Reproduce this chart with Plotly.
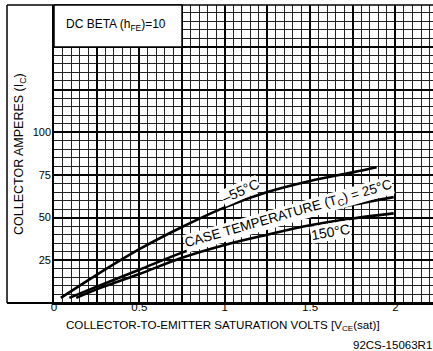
import plotly.graph_objects as go

# ---- data ----
volts_m55 = [0.04, 0.25, 0.5, 0.75, 1.0, 1.25, 1.5, 1.75, 1.89]
amps_m55 = [3, 16.5, 31.5, 44.5, 56, 65, 71.5, 76.5, 79.5]

volts_25 = [0.09, 0.25, 0.5, 0.75, 1.0, 1.25, 1.5, 1.75, 1.99]
amps_25 = [3, 9.5, 19.5, 29.5, 38, 45.5, 52, 57.5, 62]

volts_150 = [0.13, 0.25, 0.5, 0.75, 1.0, 1.25, 1.5, 1.75, 1.99]
amps_150 = [3, 8, 17, 26.5, 34, 40, 45.5, 49.5, 52.5]

x_tickvals = [0, 0.5, 1.0, 1.5, 2.0]
x_ticktext = ["0", "0.5", "1", "1.5", "2"]
y_tickvals = [25, 50, 75, 100]
y_ticktext = ["25", "50", "75", "100"]

FONT = "Liberation Sans"
W, H = 433, 351
ML, MR, MT, MB = 54, 0, 5, 48
XR = [0, 2.2203]
YR = [0, 174.5]

fig = go.Figure()
for vx, ay in [(volts_m55, amps_m55), (volts_25, amps_25), (volts_150, amps_150)]:
    fig.add_trace(go.Scatter(x=vx, y=ay, mode="lines", xaxis="x2", yaxis="y2",
                             line=dict(color="black", width=2.6, shape="spline"),
                             showlegend=False, hoverinfo="skip"))

fig.update_layout(
    width=W, height=H,
    margin=dict(l=ML, r=MR, t=MT, b=MB, pad=0),
    paper_bgcolor="white", plot_bgcolor="white",
    font=dict(family=FONT, size=11, color="black"),
    showlegend=False,
    # grid axes (no labels)
    xaxis=dict(range=XR, showgrid=True, gridcolor="black", gridwidth=1.7,
               tick0=0, dtick=0.25, showticklabels=False, ticks="", zeroline=False,
               showline=True, linecolor="black", linewidth=2,
               minor=dict(dtick=0.05, tick0=0, showgrid=True, gridcolor="#222", gridwidth=1)),
    yaxis=dict(range=YR, showgrid=True, gridcolor="black", gridwidth=1.7,
               tick0=0, dtick=25, showticklabels=False, ticks="", zeroline=False,
               showline=True, linecolor="black", linewidth=2,
               minor=dict(dtick=5, tick0=0, showgrid=True, gridcolor="#222", gridwidth=1)),
    # labelled axes
    xaxis2=dict(range=XR, overlaying="x", side="bottom", anchor="y2",
                tickvals=x_tickvals, ticktext=x_ticktext, ticks="", showgrid=False,
                zeroline=False, showline=False, tickfont=dict(family=FONT, size=11.5)),
    yaxis2=dict(range=YR, overlaying="y", side="left", anchor="x2",
                tickvals=y_tickvals, ticktext=y_ticktext, ticks="", showgrid=False,
                zeroline=False, showline=False, tickfont=dict(family=FONT, size=11)),
)
try:
    fig.update_layout(xaxis2_ticklabelstandoff=-5, yaxis2_ticklabelstandoff=2)
except Exception:
    pass

fx = lambda px: (px - ML) / (W - ML - MR)
fy = lambda py: (H - MB - py) / (H - MB - MT)

# outer frame
fig.add_shape(type="line", xref="paper", yref="paper", x0=fx(7), x1=1, y0=1, y1=1,
              line=dict(color="black", width=1.5))
fig.add_shape(type="line", xref="paper", yref="paper", x0=fx(7), x1=fx(7), y0=0, y1=1,
              line=dict(color="black", width=1.5))
fig.add_shape(type="line", xref="paper", yref="paper", x0=fx(7), x1=1, y0=0, y1=0,
              line=dict(color="black", width=2))
# DC beta box
fig.add_shape(type="rect", xref="x", yref="paper", x0=0, x1=0.75, y0=fy(47), y1=1,
              fillcolor="white", line=dict(color="black", width=1.5), layer="above")

C = dict(xanchor="center", yanchor="middle", showarrow=False)
ann = []
ann.append(dict(text="DC BETA (h<sub>FE</sub>)=10", xref="paper", yref="paper",
                x=fx(116), y=fy(25), font=dict(size=12), **C))
ann.append(dict(text="COLLECTOR AMPERES (I<sub>C</sub>)", xref="paper", yref="paper",
                x=fx(20), y=fy(154), textangle=-90, font=dict(size=12.5), **C))
ann.append(dict(text="COLLECTOR-TO-EMITTER SATURATION VOLTS [V<sub>CE</sub>(sat)]",
                xref="paper", yref="paper", x=fx(223), y=fy(325),
                font=dict(size=11.6), **C))
ann.append(dict(text="92CS-15063R1", xref="paper", yref="paper", x=fx(392), y=fy(345),
                font=dict(size=11.5), **C))
ann.append(dict(text="–55°C", xref="x2", yref="y2", x=1.09, y=65.6, textangle=-24,
                bgcolor="white", font=dict(size=14), borderpad=0, **C))
ann.append(dict(text="CASE TEMPERATURE (T<sub>C</sub>) = 25°C", xref="x2", yref="y2",
                x=1.371, y=52.1, textangle=-16, bgcolor="white", font=dict(size=13.5),
                borderpad=0, **C))
ann.append(dict(text="150°C", xref="x2", yref="y2", x=1.617, y=41.6, textangle=-10,
                bgcolor="white", font=dict(size=14), borderpad=0, **C))
fig.update_layout(annotations=ann)

fig.write_html("out.html", config={"displayModeBar": False},
               post_script="document.body.style.margin='0px';")
